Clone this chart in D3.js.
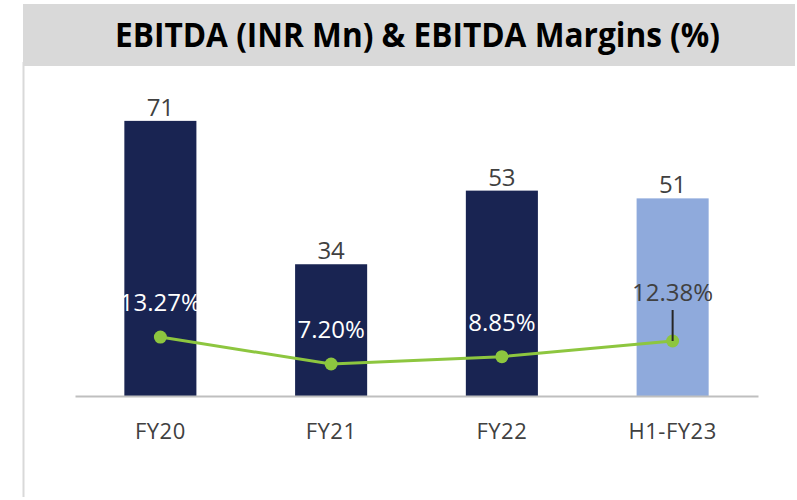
<!DOCTYPE html>
<html>
<head>
<meta charset="utf-8">
<script src="https://cdn.jsdelivr.net/npm/d3@7"></script>
<style>
    body { margin: 0; background: #fff; }
    text { font-family: "Open Sans", sans-serif; }
</style>
</head>
<body>
<svg id="chart"></svg>
<script>
var categories = ['FY20', 'FY21', 'FY22', 'H1-FY23'];
var ebitda = [71, 34, 53, 51];
var margins = [13.27, 7.20, 8.85, 12.38];
var marginLabels = ['13.27%', '7.20%', '8.85%', '12.38%'];
var title = 'EBITDA (INR Mn) & EBITDA Margins (%)';

function DrawChart() {
    var svgWidth = 797;
    var svgHeight = 500;
    var svg = d3.select('svg#chart')
        .attr('width', svgWidth)
        .attr('height', svgHeight);

    // title band
    svg.append('rect')
        .attr('x', 23).attr('y', 4)
        .attr('width', 772).attr('height', 62)
        .attr('fill', '#d9d9d9');
    svg.append('line')
        .attr('x1', 23.5).attr('x2', 23.5)
        .attr('y1', 62).attr('y2', 497)
        .attr('stroke', '#d9d9d9')
        .attr('stroke-width', 2);
    svg.append('text')
        .text(title)
        .attr('x', 417.5)
        .attr('y', 47)
        .attr('text-anchor', 'middle')
        .attr('font-size', 34)
        .attr('font-weight', 'bold')
        .attr('fill', '#000')
        .attr('textLength', 605)
        .attr('lengthAdjust', 'spacingAndGlyphs');

    var baseY = 396;
    var x = d3.scaleBand()
        .domain(categories)
        .range([75, 758])
        .paddingInner(0.578)
        .paddingOuter(0.289);
    var y = d3.scaleLinear().domain([0, 80]).range([baseY, 86]);
    var y2 = d3.scaleLinear().domain([0, 70]).range([baseY, 85]);

    function isHalf(c) { return c.indexOf('H1') === 0; }
    function cx(i) { return x(categories[i]) + x.bandwidth() / 2; }

    // bars
    svg.selectAll('rect.bar')
        .data(ebitda)
        .enter()
        .append('rect')
        .attr('class', 'bar')
        .attr('x', function (d, i) { return x(categories[i]); })
        .attr('y', function (d) { return y(d); })
        .attr('width', x.bandwidth())
        .attr('height', function (d) { return baseY - y(d); })
        .attr('fill', function (d, i) { return isHalf(categories[i]) ? '#8faadc' : '#192452'; });

    svg.selectAll('text.val')
        .data(ebitda)
        .enter()
        .append('text')
        .attr('class', 'val')
        .text(function (d) { return d; })
        .attr('x', function (d, i) { return cx(i); })
        .attr('y', function (d) { return y(d) - 5; })
        .attr('text-anchor', 'middle')
        .attr('font-size', 24)
        .attr('fill', '#404040');

    // x axis
    var axis = svg.append('g')
        .attr('transform', 'translate(0,' + baseY + ')')
        .call(d3.axisBottom(x).tickSize(0).tickPadding(27));
    axis.select('.domain')
        .attr('stroke', '#bfbfbf')
        .attr('stroke-width', 2);
    axis.selectAll('text')
        .attr('font-family', '"Open Sans", sans-serif')
        .attr('font-size', 22)
        .attr('letter-spacing', 0.5)
        .attr('fill', '#404040');

    // margin line
    var line = d3.line()
        .x(function (d, i) { return cx(i); })
        .y(function (d) { return y2(d); });
    svg.append('path')
        .datum(margins)
        .attr('d', line)
        .attr('fill', 'none')
        .attr('stroke', '#8dc63f')
        .attr('stroke-width', 3);

    svg.selectAll('circle.pt')
        .data(margins)
        .enter()
        .append('circle')
        .attr('class', 'pt')
        .attr('cx', function (d, i) { return cx(i); })
        .attr('cy', function (d) { return y2(d); })
        .attr('r', 6.5)
        .attr('fill', '#8dc63f');

    // leader line for the moved label, drawn over the marker
    var last = margins.length - 1;
    svg.append('line')
        .attr('x1', cx(last))
        .attr('x2', cx(last))
        .attr('y1', y2(margins[last]) - 31)
        .attr('y2', y2(margins[last]))
        .attr('stroke', '#262626')
        .attr('stroke-width', 2);

    svg.selectAll('text.pct')
        .data(margins)
        .enter()
        .append('text')
        .attr('class', 'pct')
        .text(function (d, i) { return marginLabels[i]; })
        .attr('x', function (d, i) { return cx(i); })
        .attr('y', function (d, i) { return y2(d) - (i === last ? 40 : 26); })
        .attr('text-anchor', 'middle')
        .attr('font-size', 24)
        .attr('fill', function (d, i) { return isHalf(categories[i]) ? '#404040' : '#fff'; });
}

DrawChart();
</script>
</body>
</html>
